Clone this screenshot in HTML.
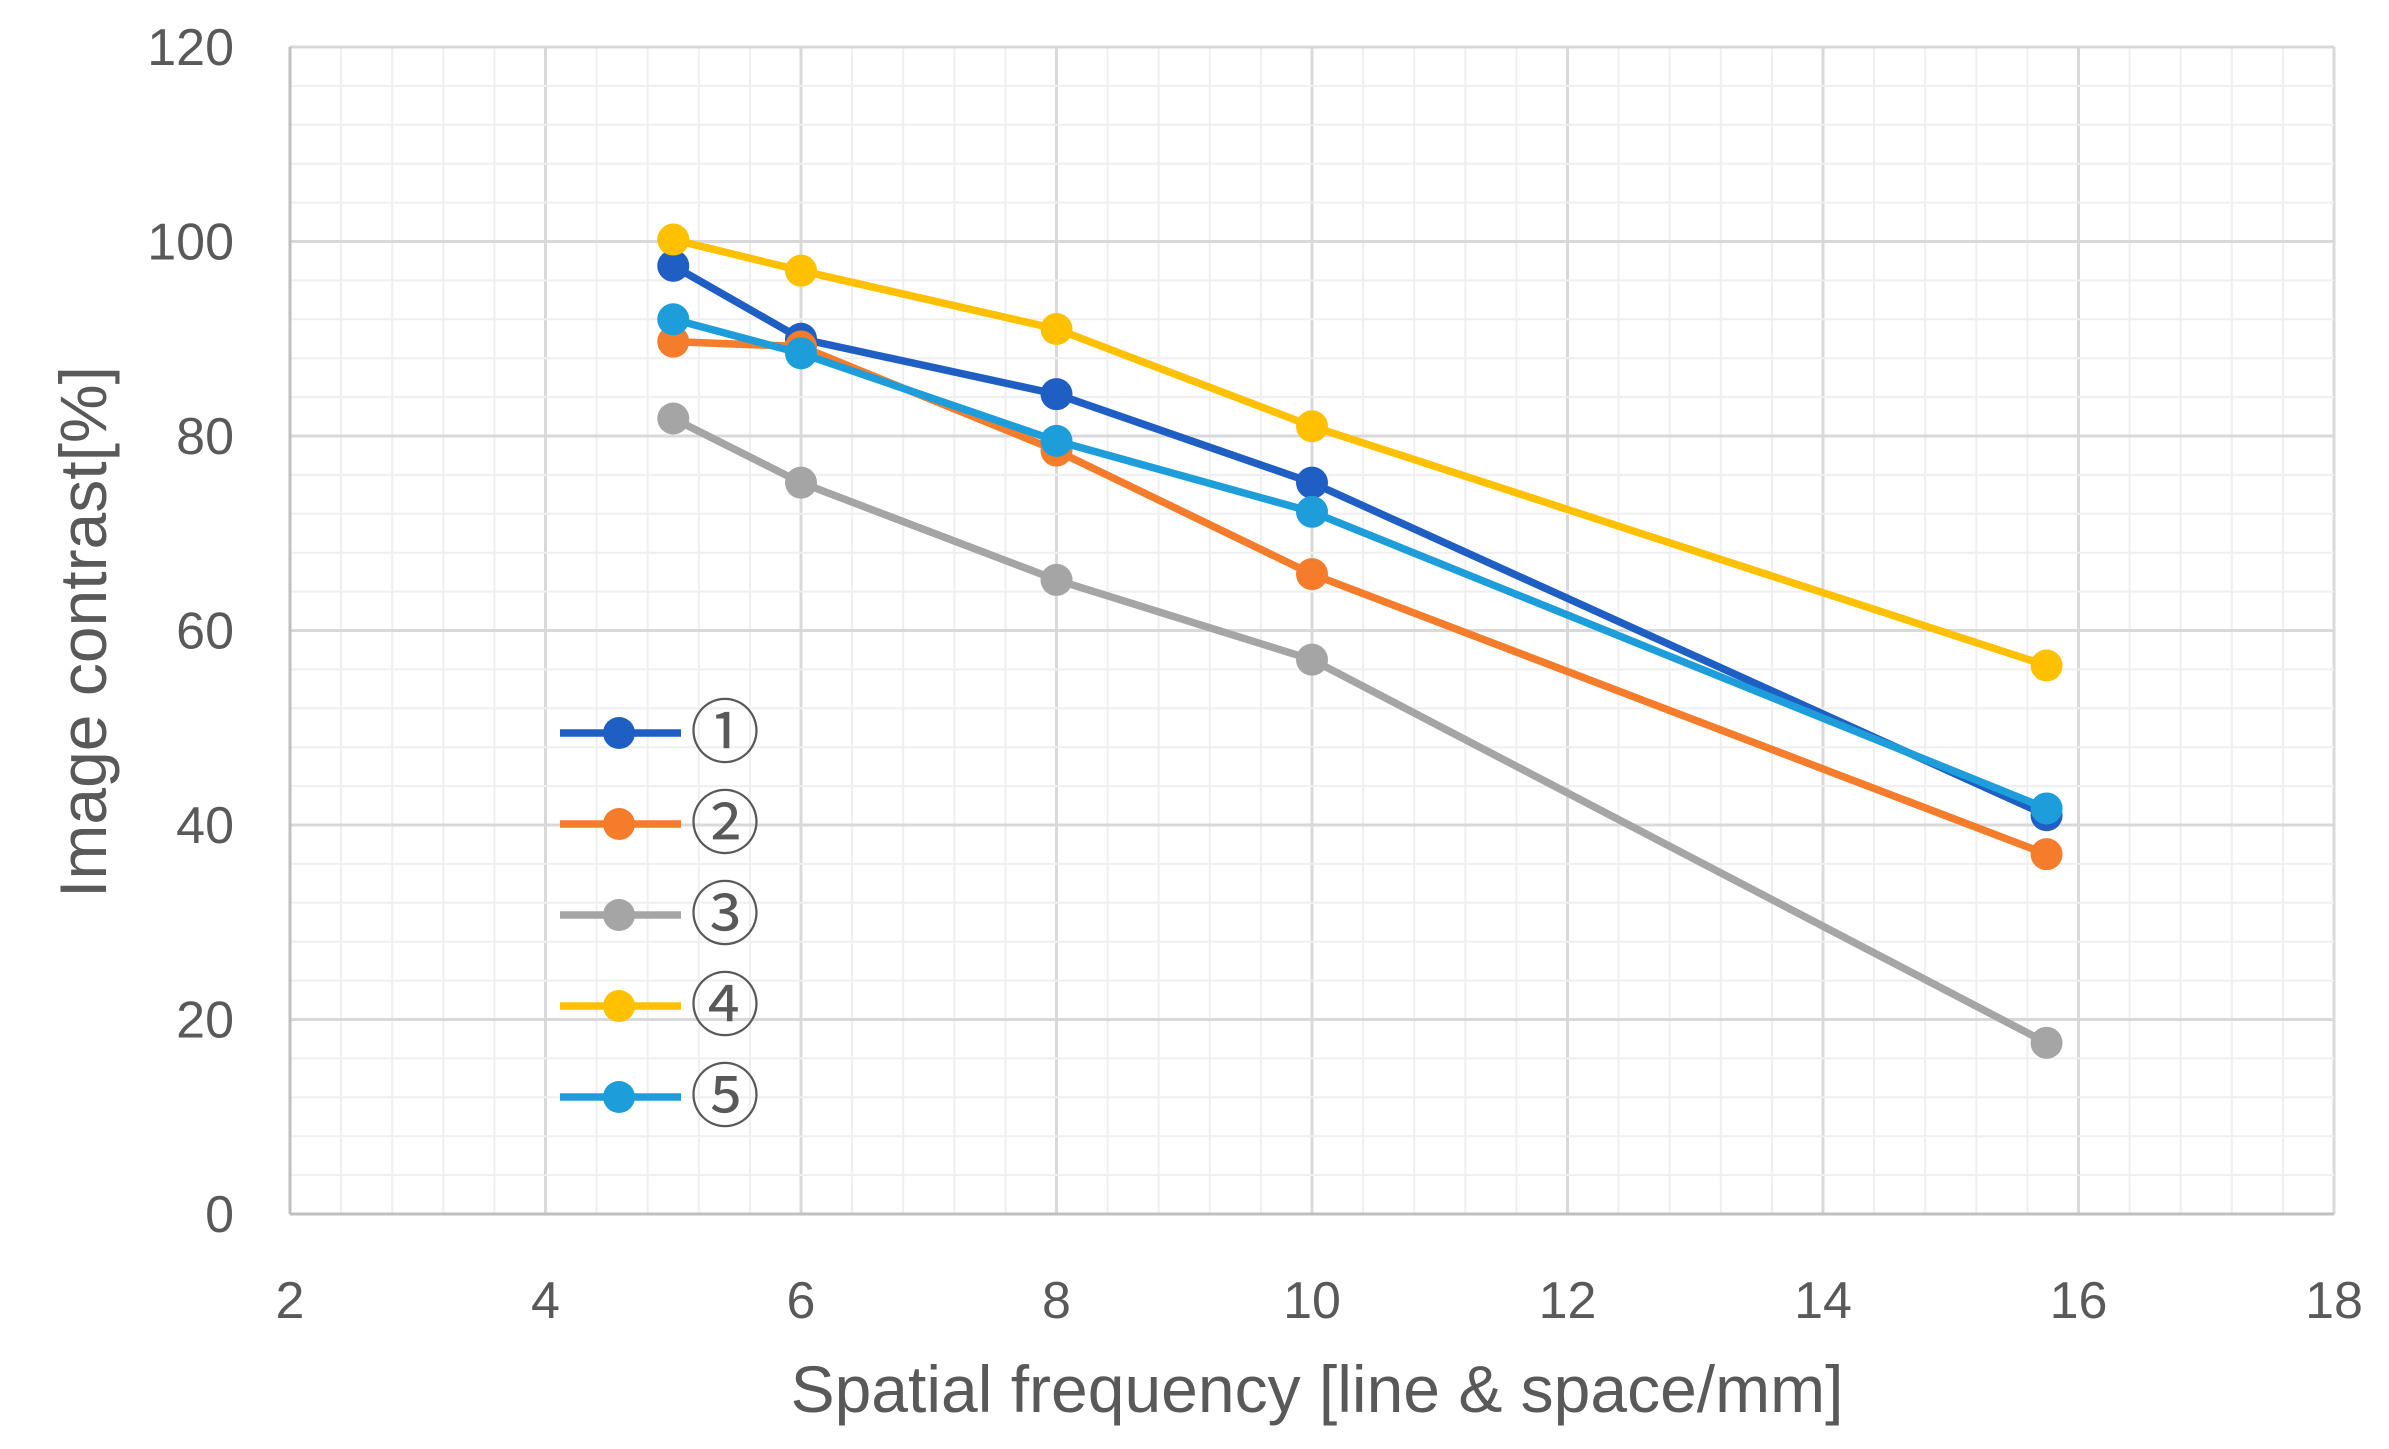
<!DOCTYPE html>
<html><head><meta charset="utf-8"><style>
body{margin:0;background:#fff}
svg text{font-family:"Liberation Sans","Noto Sans CJK JP",sans-serif;fill:#595959}
</style></head><body>
<svg id="chart" width="2389" height="1444" xmlns="http://www.w3.org/2000/svg">
<g id="grid"></g>
<g id="axes"></g>
<g id="series"></g>
<g id="legend"></g>
<text x="1317" y="1412" font-size="66" text-anchor="middle">Spatial frequency [line &amp; space/mm]</text>
<text x="0" y="0" font-size="66" text-anchor="middle" transform="translate(106,632) rotate(-90)">Image contrast[%]</text>
</svg>
<script>
const xValues=[5,6,8,10,15.75];
const s1=[97.5,90,84.3,75.2,41];
const s2=[89.7,89.2,78.5,65.8,37];
const s3=[81.8,75.2,65.2,57,17.6];
const s4=[100.2,97,91,81,56.4];
const s5=[92,88.5,79.5,72.2,41.7];
const seriesNames=["①","②","③","④","⑤"];
const xTicks=[2,4,6,8,10,12,14,16,18];
const yTicks=[0,20,40,60,80,100,120];
const colors=["#1F5FC4","#F57C2B","#A5A5A5","#FFC000","#1E9DDB"];
const L=290,R=2334,T=47,B=1214;
const xs=v=>L+(v-2)/16*(R-L);
const ys=v=>B-v/120*(B-T);
const NS="http://www.w3.org/2000/svg";
function mk(t,a,p){const e=document.createElementNS(NS,t);for(const k in a)e.setAttribute(k,a[k]);p.appendChild(e);return e;}
const grid=document.getElementById('grid'),axes=document.getElementById('axes'),ser=document.getElementById('series'),leg=document.getElementById('legend');
for(let v=2;v<=18.001;v+=0.4){const major=Math.abs(v/2-Math.round(v/2))<1e-6;
 const l=mk('line',{x1:xs(v),x2:xs(v),y1:T,y2:B,stroke:major?'#d9d9d9':'#efefef','stroke-width':major?3:2},grid);
 }
for(let v=0;v<=120;v+=4){const major=v%20===0;
 const l=mk('line',{x1:L,x2:R,y1:ys(v),y2:ys(v),stroke:major?'#d9d9d9':'#efefef','stroke-width':major?3:2},grid);
 }
let a=mk('line',{x1:L,x2:R,y1:B,y2:B,stroke:'#bfbfbf','stroke-width':3},axes);

a=mk('line',{x1:L,x2:L,y1:T,y2:B,stroke:'#bfbfbf','stroke-width':3},axes);

xTicks.forEach(v=>{const t=mk('text',{x:xs(v),y:1318,'font-size':52,'text-anchor':'middle'},axes);t.textContent=v;
 });
yTicks.forEach(v=>{const t=mk('text',{x:234,y:ys(v)+18,'font-size':52,'text-anchor':'end'},axes);t.textContent=v;
 });
[s1,s2,s3,s4,s5].forEach((d,i)=>{
 const g=mk('g',{},ser);
 const p=mk('polyline',{points:d.map((v,j)=>xs(xValues[j])+','+ys(v)).join(' '),fill:'none',stroke:colors[i],'stroke-width':7.5,'stroke-linejoin':'round'},g);
 
 d.forEach((v,j)=>{const c=mk('circle',{cx:xs(xValues[j]),cy:ys(v),r:16,fill:colors[i]},g);
  });
 const ly=733+i*91;
 const lg=mk('g',{},leg);
 mk('line',{x1:560,x2:681,y1:ly,y2:ly,stroke:colors[i],'stroke-width':7.5},lg);
 mk('circle',{cx:619,cy:ly,r:16,fill:colors[i]},lg);
 const t=mk('text',{x:690,y:ly+24,'font-size':70},lg);t.textContent=seriesNames[i];
 
});
</script>
</body></html>
